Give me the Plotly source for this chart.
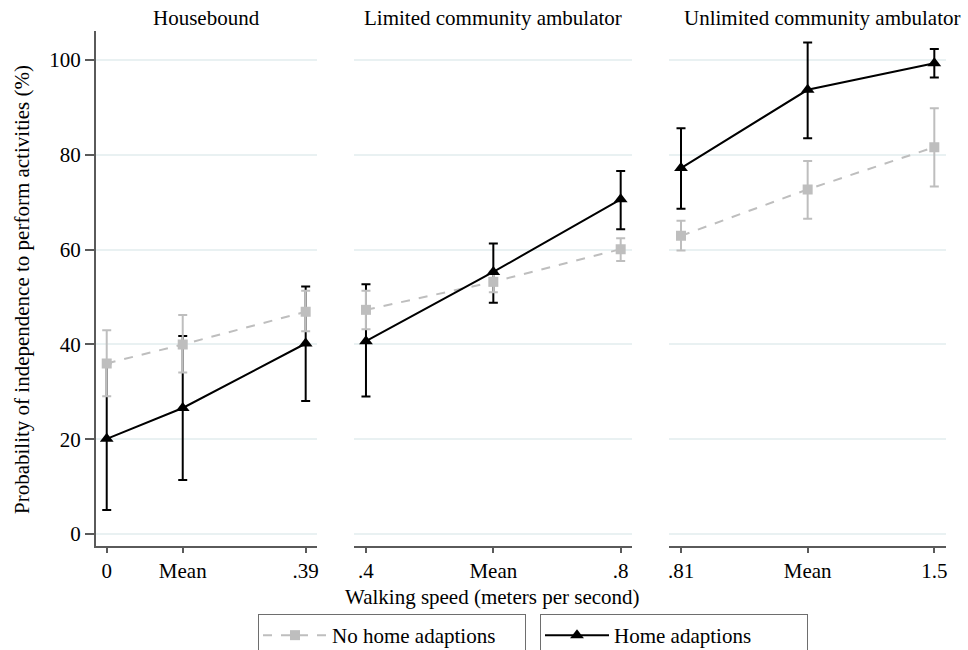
import plotly.graph_objects as go

# ---- data ----
panels = ["Housebound", "Limited community ambulator", "Unlimited community ambulator"]
x_vals = [[0.0, 0.149, 0.39], [0.4, 0.6, 0.8], [0.81, 1.155, 1.5]]
tick_text = [["0", "Mean", ".39"], [".4", "Mean", ".8"], [".81", "Mean", "1.5"]]

no_adapt = [[36.0, 40.0, 46.9], [47.3, 53.2, 60.1], [62.9, 72.7, 81.6]]
no_adapt_hi = [[43.0, 46.2, 51.3], [51.3, 55.4, 62.4], [66.1, 78.7, 89.8]]
no_adapt_lo = [[29.1, 34.1, 42.8], [43.2, 51.0, 57.6], [59.8, 66.5, 73.3]]

adapt = [[20.1, 26.6, 40.2], [40.7, 55.3, 70.6], [77.2, 93.7, 99.3]]
adapt_hi = [[36.0, 41.8, 52.2], [52.7, 61.3, 76.6], [85.6, 103.7, 102.3]]
adapt_lo = [[5.1, 11.4, 28.1], [29.0, 48.8, 64.3], [68.6, 83.5, 96.3]]

y_ticks = [0, 20, 40, 60, 80, 100]

# ---- style ----
W, H = 968, 650
FONT = "Liberation Serif"
FS = 21
GRAY = "#BEBEBE"
BLACK = "#000000"
GRID = "#E9F1F2"
AXIS = "#5A5A5A"

dom_px = [(95.7, 316.7), (354.0, 631.7), (669.0, 945.7)]
x_ranges = [(-0.0216, 0.4116), (0.3812, 0.8173), (0.7773, 1.531)]
y_dom = (1 - 546 / H, 1 - 31 / H)
y_range = (-2.5, 106.1)

fig = go.Figure()

for i in range(3):
    xa = "x" if i == 0 else f"x{i+1}"
    ya = "y" if i == 0 else f"y{i+1}"
    # error bars first (drawn beneath markers)
    for vals, hi, lo, col, w in [
        (adapt[i], adapt_hi[i], adapt_lo[i], BLACK, 2),
        (no_adapt[i], no_adapt_hi[i], no_adapt_lo[i], GRAY, 2),
    ]:
        fig.add_trace(go.Scatter(
            x=x_vals[i], y=vals, mode="markers", xaxis=xa, yaxis=ya,
            marker=dict(size=1, color="rgba(0,0,0,0)"),
            error_y=dict(type="data", symmetric=False,
                         array=[h - v for h, v in zip(hi, vals)],
                         arrayminus=[v - l for l, v in zip(lo, vals)],
                         color=col, thickness=w, width=4.5),
            showlegend=False, hoverinfo="skip"))
    fig.add_trace(go.Scatter(
        x=x_vals[i], y=no_adapt[i], mode="lines+markers", xaxis=xa, yaxis=ya,
        name="No home adaptions", legendgroup="no", showlegend=(i == 0), legend="legend",
        line=dict(color=GRAY, width=2, dash="dash"),
        marker=dict(symbol="square", size=10, color=GRAY)))
    fig.add_trace(go.Scatter(
        x=x_vals[i], y=adapt[i], mode="lines+markers", xaxis=xa, yaxis=ya,
        name="Home adaptions", legendgroup="yes", showlegend=(i == 0), legend="legend2",
        line=dict(color=BLACK, width=2),
        marker=dict(symbol="triangle-up", size=12, color=BLACK)))

layout = dict(
    width=W, height=H,
    margin=dict(l=0, r=0, t=0, b=0, autoexpand=False),
    paper_bgcolor="white", plot_bgcolor="white",
    font=dict(family=FONT, size=FS, color="black"),
)

for i in range(3):
    xk = "xaxis" if i == 0 else f"xaxis{i+1}"
    yk = "yaxis" if i == 0 else f"yaxis{i+1}"
    layout[xk] = dict(
        domain=[dom_px[i][0] / W, dom_px[i][1] / W],
        range=list(x_ranges[i]),
        tickmode="array", tickvals=x_vals[i], ticktext=tick_text[i],
        ticks="outside", ticklen=5, tickwidth=1.5, tickcolor=AXIS,
        showline=True, linecolor=AXIS, linewidth=1.5,
        showgrid=False, zeroline=False, anchor="y" if i == 0 else f"y{i+1}",
        tickfont=dict(family=FONT, size=FS, color="black"),
        automargin=False,
    )
    layout[yk] = dict(
        domain=list(y_dom), range=list(y_range),
        tickmode="array", tickvals=y_ticks,
        showgrid=True, gridcolor=GRID, gridwidth=1.5, zeroline=False,
        anchor="x" if i == 0 else f"x{i+1}",
        tickfont=dict(family=FONT, size=FS, color="black"),
        automargin=False,
    )
    if i == 0:
        layout[yk].update(showline=True, linecolor=AXIS, linewidth=1.5,
                          ticks="outside", ticklen=9, tickwidth=1.5, tickcolor=AXIS,
                          showticklabels=True)
    else:
        layout[yk].update(showline=False, ticks="", showticklabels=False)

title_x = [206, 492.8, 822]
annotations = []
for i in range(3):
    annotations.append(dict(text=panels[i], x=title_x[i] / W, y=1 - 18 / H,
                            xref="paper", yref="paper", showarrow=False,
                            xanchor="center", yanchor="middle",
                            font=dict(family=FONT, size=FS, color="black")))
annotations.append(dict(text="Walking speed (meters per second)", x=492.8 / W, y=1 - 597 / H,
                        xref="paper", yref="paper", showarrow=False,
                        xanchor="center", yanchor="middle",
                        font=dict(family=FONT, size=FS, color="black")))
annotations.append(dict(text="Probability of independence to perform activities (%)",
                        x=22 / W, y=1 - 290 / H, textangle=-90,
                        xref="paper", yref="paper", showarrow=False,
                        xanchor="center", yanchor="middle",
                        font=dict(family=FONT, size=FS, color="black")))
layout["annotations"] = annotations

leg_common = dict(orientation="h", xanchor="left", yanchor="top", y=1 - 614 / H,
                  bordercolor="#6E6E6E", borderwidth=1, bgcolor="white",
                  itemwidth=64, entrywidthmode="pixels",
                  font=dict(family=FONT, size=FS, color="black"))
layout["legend"] = dict(x=258 / W, entrywidth=188, **leg_common)
layout["legend2"] = dict(x=540 / W, entrywidth=188, **leg_common)

fig.update_layout(**layout)
fig.write_html("out.html", config={"displayModeBar": False},
               post_script="document.body.style.margin='0px';document.body.style.overflow='hidden';")
